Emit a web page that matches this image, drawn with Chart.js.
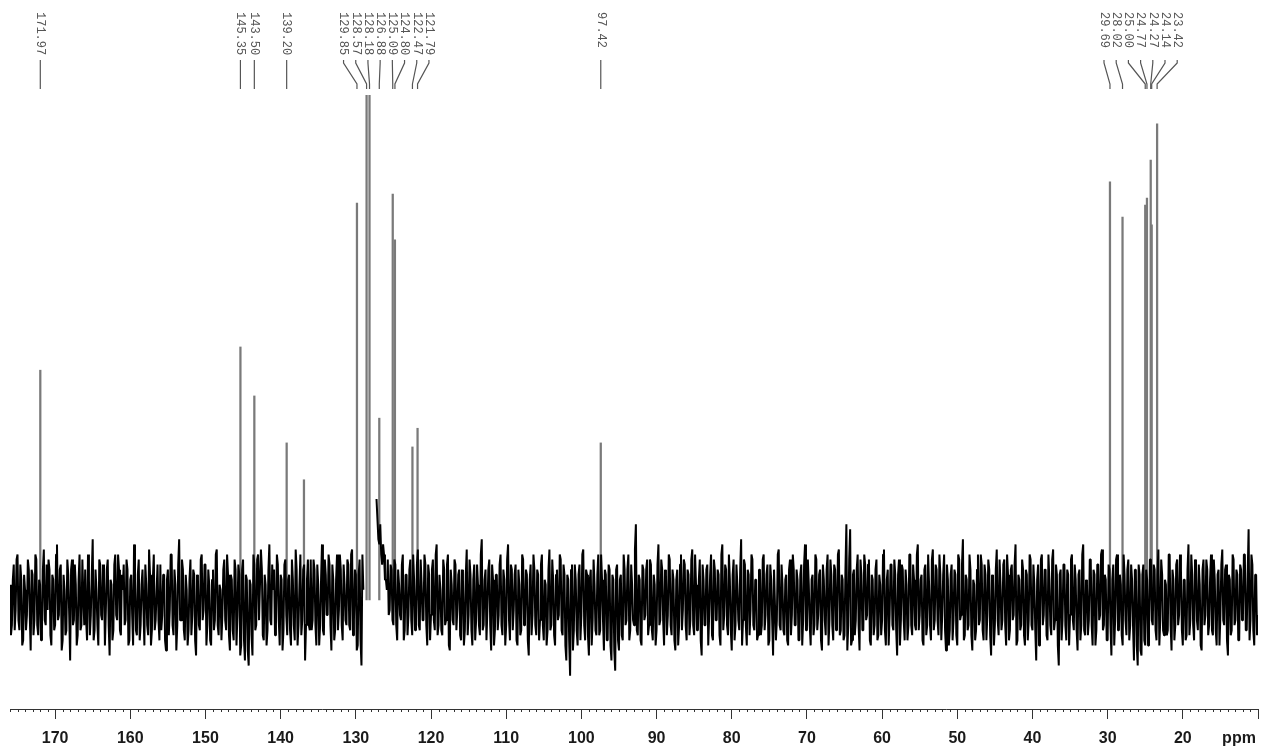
<!DOCTYPE html>
<html>
<head>
<meta charset="utf-8">
<title>13C NMR spectrum</title>
<script src="https://cdn.jsdelivr.net/npm/chart.js@4.4.1/dist/chart.umd.min.js"></script>
<style>
  html, body { margin: 0; padding: 0; background: #ffffff; }
  #wrap { width: 1262px; height: 749px; position: relative; }
</style>
</head>
<body>
<div id="wrap"><canvas id="spectrum" width="1262" height="749"></canvas></div>
<script>
// Chemical shift axis (ppm): trace sampled every 0.125 ppm from the left edge
const ppmStart = 176;
const ppmStep = 0.25;

// Trace intensity on the whole-quarter samples (176, 175.75, ...); null = no trace
const traceA = [
  3,-5,7,-2,9,-6,4,-8,2,-3,6,-10,5,-4,8,-7,3,-6,10,-5,
  -2,6,-9,4,-5,11,-3,7,-8,2,-6,5,-12,8,-4,3,-7,9,-5,1,
  6,-8,4,-3,12,-6,2,-9,7,-4,5,-2,8,-11,3,-6,9,-4,6,-7,
  2,-5,8,-9,4,-3,11,-6,5,-8,3,-2,7,-5,10,-9,4,-6,2,-4,
  7,-3,5,-10,6,-2,9,-7,3,-5,12,-4,6,-8,2,-6,8,-3,5,-11,
  4,-6,9,-2,7,-5,3,-9,6,-4,10,-7,2,-3,8,-6,5,-10,4,-8,
  6,-3,5,-9,8,-12,4,-13,3,-11,7,-5,9,-4,6,-8,3,-6,11,-5,
  2,-7,9,-4,5,-10,7,-3,4,-6,8,-5,10,-9,3,-7,6,-12,4,-5,
  8,-4,6,-9,3,-5,11,-7,5,-3,7,-10,4,-6,9,-2,6,-8,3,-5,
  7,-6,10,-4,5,-9,8,-13,2,null,null,null,null,null,null,20,12,15,7,9,
  4,8,-2,6,-5,7,-8,3,-4,9,-6,5,-3,8,-7,4,-5,10,-6,3,
  -4,7,-9,5,-3,8,-6,11,-5,2,-7,6,-4,9,-10,3,-5,7,-2,6,
  -8,4,-6,10,-3,5,-9,7,-4,3,-7,12,-5,6,-2,8,-10,4,-6,5,
  -3,9,-7,4,-5,11,-8,6,-2,7,-9,3,-6,8,-4,5,-11,7,-3,6,
  -7,5,-4,9,-8,3,-6,10,-5,4,-9,6,-3,8,-7,5,-12,4,-15,7,
  -6,4,-9,7,-3,10,-8,5,-11,6,-4,3,-7,9,-6,4,-10,5,-8,6,
  -12,4,-14,7,-10,5,-8,6,-4,9,-6,3,-5,15,-7,4,-9,6,-3,8,
  -5,7,-8,3,-6,11,-4,6,-9,5,-3,8,-7,4,-10,6,-5,9,-2,7,
  -8,5,-4,10,-7,3,-6,8,-11,4,-5,7,-3,9,-8,6,-4,5,-9,11,
  -3,6,-7,4,-10,8,-5,3,-6,12,-4,7,-9,5,-2,8,-6,4,-7,6,
  -5,9,-3,7,-8,4,-11,6,-4,10,-6,3,-7,5,-9,8,-3,6,-5,4,
  -8,7,-4,11,-6,3,-9,5,-5,8,-3,6,-10,4,-7,9,-4,5,-8,6,
  -3,10,-6,4,-7,15,-5,14,-8,6,-4,9,-10,5,-6,7,-3,8,-9,4,
  -5,8,-7,3,-4,10,-9,6,-3,7,-6,5,-11,8,-4,6,-8,3,-5,9,
  -7,4,-6,11,-3,5,-9,7,-5,3,-8,10,-4,6,-7,5,-3,9,-10,4,
  -6,7,-4,5,-9,8,-3,12,-7,4,-5,6,-10,3,-6,9,-4,7,-8,5,
  -3,6,-11,4,-5,10,-7,3,-4,8,-9,5,-6,7,-3,11,-8,4,-5,6,
  -9,5,-4,8,-6,3,-12,7,-5,9,-3,6,-8,4,-7,10,-4,5,-13,6,
  -4,7,-8,5,-3,9,-6,4,-10,6,-5,11,-7,3,-4,8,-9,5,-6,7,
  -3,10,-5,4,-8,6,-11,7,-4,9,-6,3,-9,5,-7,8,-5,4,-12,6,
  -13,5,-11,7,-9,4,-6,8,-5,6,-8,10,-4,5,-7,3,-6,9,-10,4,
  -5,8,-3,6,-9,4,-7,11,-4,5,-8,7,-6,3,-10,8,-3,6,-5,9,
  -7,4,-9,6,-3,10,-5,7,-11,4,-6,8,-4,5,-8,6,-3,9,-6,14,
  -4,7,-9,5,-3
];

// Trace intensity on the in-between samples (175.875, 175.625, ...); null = no trace
const traceB = [
  -7,4,-6,8,-4,7,-9,5,-6,8,-3,6,-7,9,-5,4,-8,6,-4,7,
  8,-7,5,-6,9,-4,6,-10,5,-7,8,-3,6,-5,7,-9,4,-6,8,-5,
  -4,9,-7,5,-8,6,-5,8,-3,7,-9,6,-5,4,-8,7,-3,9,-6,5,
  7,-4,6,-8,5,-9,4,-7,8,-5,6,-9,3,-7,5,-6,9,-4,7,-8,
  -6,5,-8,4,-7,9,-5,6,-10,7,-4,8,-6,5,-9,4,-7,6,-8,5,
  -5,8,-4,7,-9,6,-8,4,-6,9,-5,3,-8,6,-4,9,-7,5,-6,8,
  -9,7,-11,6,-8,5,-10,4,-7,9,-6,8,-4,10,-7,5,-9,6,-4,7,
  6,-5,7,-9,4,-6,8,-7,5,-9,4,-8,6,-5,9,-4,7,-5,8,-6,
  -6,8,-5,7,-9,4,-6,8,-3,9,-5,7,-8,4,-6,9,-5,7,-4,8,
  -5,9,-7,6,-10,5,-8,9,null,null,null,null,null,null,null,16,11,9,11,4,
  2,-3,7,-4,8,-5,6,-3,7,-8,5,-7,6,-4,9,-6,7,-5,8,-4,
  9,-5,7,-8,6,-4,9,-7,5,-6,8,-5,7,-9,6,-4,8,-6,5,-7,
  6,-9,5,-7,8,-6,4,-8,7,-5,9,-6,4,-8,6,-5,7,-9,5,-6,
  7,-5,6,-9,8,-4,7,-6,5,-8,6,-7,9,-5,6,-8,4,-7,9,-5,
  6,-8,7,-5,4,-9,6,-6,8,-7,5,-4,9,-6,7,-9,5,-8,6,-10,
  7,-6,5,-8,9,-5,6,-7,4,-9,8,-6,5,-7,9,-4,6,-8,7,-9,
  5,-10,6,-8,4,-7,9,-5,6,-8,7,-4,10,-6,5,-8,7,-4,6,-7,
  8,-6,5,-9,7,-5,8,-4,6,-7,9,-5,6,-8,4,-9,7,-6,8,-5,
  6,-7,8,-5,9,-6,4,-8,7,-5,6,-9,5,-7,8,-4,6,-7,9,-6,
  7,-5,9,-6,5,-8,7,-4,6,-9,8,-5,6,-7,9,-5,4,-8,6,-7,
  8,-6,5,-9,7,-4,6,-8,9,-5,7,-6,4,-8,6,-7,9,-5,6,-8,
  5,-9,7,-6,8,-5,4,-7,9,-6,5,-8,7,-4,6,-9,8,-5,7,-6,
  9,-7,5,-8,6,-10,8,-9,5,-7,6,-5,8,-6,9,-4,7,-8,5,-7,
  6,-8,5,-7,9,-6,4,-9,7,-5,8,-6,5,-9,7,-4,6,-8,9,-5,
  7,-5,9,-6,4,-8,6,-7,9,-5,8,-6,7,-4,9,-8,5,-6,7,-9,
  5,-8,6,-7,9,-4,7,-8,5,-6,9,-7,4,-8,6,-5,9,-6,7,-8,
  8,-7,5,-9,6,-4,8,-6,7,-5,9,-8,6,-4,7,-9,5,-6,8,-7,
  6,-8,9,-5,7,-6,4,-9,8,-5,6,-7,9,-5,8,-6,7,-9,5,-8,
  7,-5,6,-9,8,-4,7,-6,5,-8,9,-6,4,-7,8,-5,6,-9,7,-4,
  9,-6,5,-8,7,-5,4,-9,8,-6,5,-7,9,-4,6,-8,7,-5,6,-9,
  7,-10,5,-8,6,-9,8,-4,7,-6,5,-9,8,-6,4,-7,9,-5,6,-8,
  7,-5,9,-6,4,-8,6,-7,9,-5,8,-4,7,-9,6,-5,8,-7,4,-6,
  8,-6,5,-9,7,-4,6,-8,5,-7,9,-5,6,-8,7,-4,9,-6,5,-8,
  9,-6,5,-7
];

// Resonances: shift (ppm) and peak height (relative intensity)
const peakPpm = [171.97, 145.35, 143.50, 139.20, 136.90, 129.85, 128.57, 128.18, 126.88,
  125.09, 124.80, 122.47, 121.79, 97.42, 29.69, 28.02, 25.00, 24.77, 24.27, 24.14, 23.42];
const peakHeight = [45.5, 50.1, 40.4, 31.1, 23.8, 78.6, 130, 130, 36.0,
  80.4, 71.3, 30.3, 34.0, 31.1, 82.8, 75.8, 78.2, 79.6, 87.1, 74.3, 94.3];

// Peak-picking labels printed above the spectrum
const labelPpm = [171.97, 145.35, 143.50, 139.20, 129.85, 128.57, 128.18, 126.88,
  125.09, 124.80, 122.47, 121.79, 97.42, 29.69, 28.02, 25.00, 24.77, 24.27, 24.14, 23.42];

// Axis ticks
const majorTicks = [170, 160, 150, 140, 130, 120, 110, 100, 90, 80, 70, 60, 50, 40, 30, 20];
const axisUnit = 'ppm';

// interleave the two sample sets into one trace
const tracePoints = [];
traceA.forEach((v, i) => {
  const x = ppmStart - i * ppmStep;
  tracePoints.push({ x, y: v });
  if (i < traceB.length) tracePoints.push({ x: x - ppmStep / 2, y: traceB[i] });
});
const peakPoints = peakPpm.map((p, i) => ({ x: p, y: peakHeight[i] }));

const tickFont = { family: "'Liberation Sans', Arial, sans-serif", size: 16, weight: 'bold' };

// Draws the peak labels with their leader lines, the minor ticks and the unit
const decorations = {
  id: 'decorations',
  afterDraw(chart) {
    const ctx = chart.ctx;
    const xs = chart.scales.x;
    const area = chart.chartArea;

    // minor ticks every 1 ppm (plus the closing tick at the right end)
    ctx.save();
    ctx.strokeStyle = '#333';
    ctx.lineWidth = 1;
    ctx.beginPath();
    for (let v = Math.ceil(xs.min); v <= Math.floor(xs.max); v++) {
      if (majorTicks.includes(v)) continue;
      const px = Math.round(xs.getPixelForValue(v)) + 0.5;
      const len = (v % 10 === 0) ? 10 : 3;
      ctx.moveTo(px, area.bottom);
      ctx.lineTo(px, area.bottom + len);
    }
    ctx.stroke();

    // unit label after the last tick label
    ctx.fillStyle = '#1a1a1a';
    ctx.font = 'bold 16px "Liberation Sans", Arial, sans-serif';
    ctx.textAlign = 'center';
    ctx.textBaseline = 'middle';
    ctx.fillText(axisUnit, 1239, 739);
    ctx.restore();

    // spread overlapping labels into evenly spaced groups
    const sep = 12.2;
    const items = labelPpm.map(p => ({ p, px: xs.getPixelForValue(p) })).sort((a, b) => a.px - b.px);
    let groups = items.map(it => ({ members: [it], center: it.px }));
    let merged = true;
    while (merged) {
      merged = false;
      for (let i = 0; i < groups.length - 1; i++) {
        const a = groups[i], b = groups[i + 1];
        const aRight = a.center + (a.members.length - 1) * sep / 2;
        const bLeft = b.center - (b.members.length - 1) * sep / 2;
        if (bLeft - aRight < sep) {
          const m = a.members.concat(b.members);
          const c = m.reduce((s, q) => s + q.px, 0) / m.length;
          groups.splice(i, 2, { members: m, center: c });
          merged = true;
          break;
        }
      }
    }

    ctx.save();
    ctx.strokeStyle = '#555';
    ctx.fillStyle = '#555';
    ctx.lineWidth = 1.2;
    ctx.font = '12px "Liberation Mono", "DejaVu Sans Mono", monospace';
    groups.forEach(g => {
      const n = g.members.length;
      g.members.forEach((m, j) => {
        const lx = g.center + (j - (n - 1) / 2) * sep;
        // leader line
        ctx.beginPath();
        ctx.moveTo(lx, 60);
        ctx.lineTo(lx, 63);
        ctx.lineTo(m.px, 84);
        ctx.lineTo(m.px, 89);
        ctx.stroke();
        // rotated shift value
        ctx.save();
        ctx.translate(lx, 12);
        ctx.rotate(Math.PI / 2);
        ctx.textAlign = 'left';
        ctx.textBaseline = 'middle';
        ctx.fillText(m.p.toFixed(2), 0, 0);
        ctx.restore();
      });
    });
    ctx.restore();
  }
};

new Chart(document.getElementById('spectrum'), {
  type: 'line',
  data: {
    datasets: [
      {
        type: 'line',
        label: 'Spectrum',
        data: tracePoints,
        borderColor: '#000000',
        borderWidth: 2,
        borderJoinStyle: 'bevel',
        pointRadius: 0,
        tension: 0,
        spanGaps: false,
        fill: false,
        order: 0
      },
      {
        type: 'bar',
        label: 'Peaks',
        data: peakPoints,
        backgroundColor: '#7a7a7a',
        borderWidth: 0,
        barThickness: 1.6,
        order: 1
      }
    ]
  },
  options: {
    responsive: false,
    animation: false,
    devicePixelRatio: 1,
    layout: { padding: { left: 10, right: 4, top: 95, bottom: 0 } },
    plugins: { legend: { display: false }, tooltip: { enabled: false } },
    scales: {
      x: {
        type: 'linear',
        min: 10,
        max: 176,
        reverse: true,
        offset: false,
        position: 'bottom',
        afterBuildTicks: s => { s.ticks = majorTicks.map(v => ({ value: v })); },
        afterFit: s => { s.height = 40; },
        ticks: {
          font: tickFont,
          color: '#1a1a1a',
          padding: 10,
          maxRotation: 0,
          autoSkip: false,
          callback: v => String(v)
        },
        grid: { offset: false, drawOnChartArea: false, drawTicks: true, tickLength: 10, color: '#333', lineWidth: 1 },
        border: { display: true, color: '#333', width: 1 }
      },
      y: {
        type: 'linear',
        min: -21.6,
        max: 100,
        display: false
      }
    }
  },
  plugins: [decorations]
});
</script>
</body>
</html>
